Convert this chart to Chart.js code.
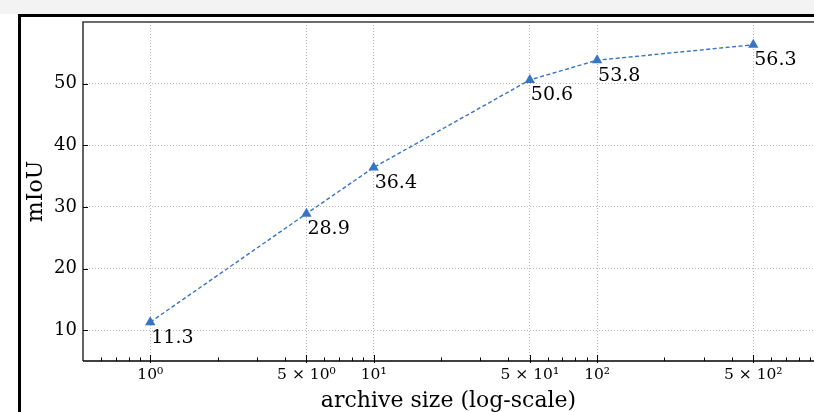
<!DOCTYPE html>
<html>
<head>
<meta charset="utf-8">
<script src="https://cdn.jsdelivr.net/npm/chart.js@4/dist/chart.umd.min.js"></script>
<style>
  html, body { margin: 0; padding: 0; background: #ffffff; overflow: hidden; }
  #band { position: absolute; left: 0; top: 0; width: 814px; height: 14px; background: #f3f3f3; }
  #frame { position: absolute; left: 18px; top: 14px; width: 800px; height: 400px;
           border-top: 3px solid #000; border-left: 3px solid #000; box-sizing: border-box; }
  #wrap { position: absolute; left: 0; top: 0; width: 814px; height: 412px; }
</style>
</head>
<body>
<div id="band"></div>
<div id="frame"></div>
<div id="wrap"><canvas id="c" width="814" height="412"></canvas></div>
<script>
// ---- data ----
const archiveSizes = [1, 5, 10, 50, 100, 500];
const miouValues   = [11.3, 28.9, 36.4, 50.6, 53.8, 56.3];
const pointLabels  = ['11.3', '28.9', '36.4', '50.6', '53.8', '56.3'];
const xTickValues  = [1, 5, 10, 50, 100, 500];
const xTickLabels  = ['10⁰', '5 × 10⁰', '10¹', '5 × 10¹', '10²', '5 × 10²'];
const xMinorTicks  = [0.6, 0.7, 0.8, 0.9, 2, 3, 4, 6, 7, 8, 9, 20, 30, 40, 60, 70, 80, 90, 200, 300, 400, 600, 700, 800, 900];
const yTickValues  = [10, 20, 30, 40, 50];

const serif = '"DejaVu Serif", serif';
const blue = '#3874c2';

const decorPlugin = {
  id: 'decor',
  afterDraw(chart) {
    const ctx = chart.ctx, a = chart.chartArea;
    const xs = chart.scales.x, ys = chart.scales.y;
    ctx.save();
    // frame top & left
    ctx.strokeStyle = '#3c3c3c'; ctx.lineWidth = 1.6;
    ctx.beginPath(); ctx.moveTo(a.left, a.bottom); ctx.lineTo(a.left, a.top); ctx.lineTo(a.right + 2, a.top); ctx.stroke();
    // bottom axis
    ctx.strokeStyle = '#000'; ctx.lineWidth = 1.5;
    ctx.beginPath(); ctx.moveTo(a.left, a.bottom); ctx.lineTo(a.right + 2, a.bottom); ctx.stroke();
    // inward ticks
    ctx.strokeStyle = '#000'; ctx.lineWidth = 1;
    ctx.beginPath();
    xMinorTicks.forEach(v => {
      if (v < xs.min || v > xs.max) return;
      const px = Math.round(xs.getPixelForValue(v)) + 0.5;
      ctx.moveTo(px, a.bottom); ctx.lineTo(px, a.bottom - 3.5);
    });
    xTickValues.forEach(v => {
      const px = Math.round(xs.getPixelForValue(v)) + 0.5;
      ctx.moveTo(px, a.bottom + 2); ctx.lineTo(px, a.bottom - 6);
    });
    yTickValues.forEach(v => {
      const py = Math.round(ys.getPixelForValue(v)) + 0.5;
      ctx.moveTo(a.left, py); ctx.lineTo(a.left + 5, py);
    });
    ctx.stroke();
    ctx.restore();
  },
  afterDatasetsDraw(chart) {
    const ctx = chart.ctx;
    const xs = chart.scales.x, ys = chart.scales.y;
    ctx.save();
    ctx.fillStyle = '#000';
    ctx.font = '19px ' + serif;
    ctx.textAlign = 'left';
    ctx.textBaseline = 'top';
    archiveSizes.forEach((x, i) => {
      const px = xs.getPixelForValue(x);
      const py = ys.getPixelForValue(miouValues[i]);
      ctx.fillText(pointLabels[i], px + 1, py + 6);
    });
    ctx.restore();
  }
};

new Chart(document.getElementById('c'), {
  type: 'line',
  data: {
    datasets: [{
      data: archiveSizes.map((x, i) => ({ x: x, y: miouValues[i] })),
      borderColor: blue,
      backgroundColor: blue,
      borderWidth: 1.4,
      borderDash: [4, 2.5],
      pointStyle: 'triangle',
      pointRadius: 6,
      pointBorderWidth: 0,
      tension: 0
    }]
  },
  plugins: [decorPlugin],
  options: {
    responsive: false,
    animation: false,
    devicePixelRatio: 1,
    layout: { autoPadding: false, padding: { left: 0, top: 22, right: 0, bottom: 0 } },
    plugins: { legend: { display: false }, tooltip: { enabled: false } },
    scales: {
      x: {
        type: 'logarithmic',
        min: 0.5,
        max: 935,
        afterBuildTicks: s => { s.ticks = xTickValues.map(v => ({ value: v })); },
        afterFit: s => { s.height = 51; },
        ticks: {
          autoSkip: false, maxRotation: 0, padding: 5,
          color: '#000',
          font: { family: serif, size: 15.5 },
          callback: (v, i) => xTickLabels[i]
        },
        grid: { color: '#b8b8b8', lineWidth: 1, drawTicks: false },
        border: { display: false, dash: [1, 2] },
        title: {
          display: true, text: 'archive size (log-scale)', color: '#000',
          font: { family: serif, size: 22 }, padding: { top: 0, bottom: -2 }
        }
      },
      y: {
        type: 'linear',
        min: 5,
        max: 60,
        afterBuildTicks: s => { s.ticks = yTickValues.map(v => ({ value: v })); },
        afterFit: s => { s.width = 83; },
        ticks: {
          padding: 6, color: '#000',
          font: { family: serif, size: 18 }
        },
        grid: { color: '#b8b8b8', lineWidth: 1, drawTicks: false },
        border: { display: false, dash: [1, 2] },
        title: {
          display: true, text: 'mIoU', color: '#000',
          font: { family: serif, size: 22 }, padding: { top: 23, bottom: 0 }
        }
      }
    }
  }
});
</script>
</body>
</html>
